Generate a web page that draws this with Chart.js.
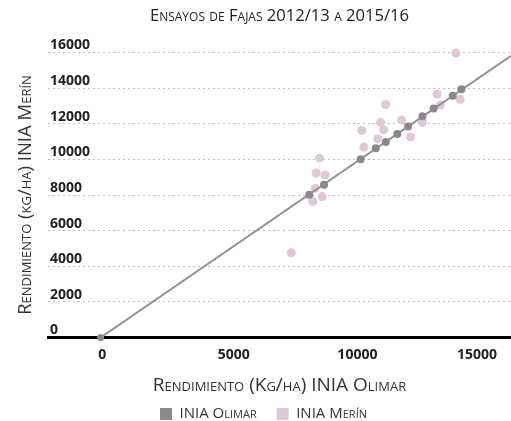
<!DOCTYPE html>
<html>
<head>
<meta charset="utf-8">
<script src="https://cdn.jsdelivr.net/npm/chart.js@4.4.1/dist/chart.umd.min.js"></script>
<style>
html,body{margin:0;padding:0;background:#fff;}
#wrap{width:511px;height:421px;position:relative;}
</style>
</head>
<body>
<div id="wrap"><canvas id="c" width="511" height="421"></canvas></div>
<script>
// Data
const olimarX = [0, 8720, 9340, 10870, 11500, 11920, 12400, 12850, 13450, 13920, 14720, 15080];
const olimarY = [0, 8010, 8570, 10010, 10620, 10970, 11420, 11840, 12420, 12850, 13570, 13940];
const merinX = [14850, 14060, 15030, 11910, 14200, 11700, 12580, 13450, 10910, 11830, 11580, 12950, 11000, 9150, 9010, 9380, 8970, 9260, 8870, 7970];
const merinY = [15970, 13670, 13380, 13080, 13050, 12080, 12210, 12070, 11620, 11660, 11160, 11260, 10690, 10070, 9230, 9120, 8380, 7910, 7650, 4760];
const trendX = [0, 17153];
const trendY = [0, 15815];
const xTicks = [0, 5000, 10000, 15000];
const yTicks = [0, 2000, 4000, 6000, 8000, 10000, 12000, 14000, 16000];
const seriesNames = ['INIA Olimar', 'INIA Merín'];
const titleText = 'Ensayos de Fajas 2012/13 a 2015/16';
const xTitle = 'Rendimiento (Kg/ha) INIA Olimar';
const yTitle = 'Rendimiento (kg/ha) INIA Merín';

const zip = (xs, ys) => xs.map((x, i) => ({x: x, y: ys[i]}));
const SC = 'small-caps 400';
const FAM = '"Open Sans", Lato, sans-serif';

new Chart(document.getElementById('c'), {
  type: 'scatter',
  data: {
    datasets: [
      {
        label: seriesNames[0],
        data: zip(olimarX, olimarY),
        backgroundColor: '#c4c4c4',
        pointBackgroundColor: '#8b898e',
        borderWidth: 0,
        pointBorderWidth: 0,
        pointRadius: olimarX.map(v => v === 0 ? 3.5 : 4),
        clip: false
      },
      {
        label: 'trend',
        type: 'line',
        data: zip(trendX, trendY),
        borderColor: '#939096',
        borderWidth: 2,
        pointRadius: 0,
        fill: false
      },
      {
        label: seriesNames[1],
        data: zip(merinX, merinY),
        backgroundColor: '#eee2ea',
        pointBackgroundColor: '#dfc8d7',
        borderWidth: 0,
        pointBorderWidth: 0,
        pointRadius: 4.5,
        clip: false
      }
    ]
  },
  options: {
    responsive: false,
    animation: false,
    devicePixelRatio: 1,
    layout: {autoPadding: false, padding: {left: 16, right: 0, top: 0, bottom: -10.5}},
    plugins: {
      tooltip: {enabled: false},
      title: {
        display: true,
        text: titleText,
        fullSize: false,
        color: '#222',
        font: {family: FAM, size: 16.6, weight: SC, lineHeight: 1},
        padding: {top: 8.2, bottom: 27.7}
      },
      legend: {
        position: 'bottom',
        labels: {
          boxWidth: 12,
          boxHeight: 12,
          padding: 10,
          color: '#333',
          font: {family: FAM, size: 15, weight: SC},
          filter: (item) => item.text !== 'trend',
          generateLabels: (chart) => {
            const items = Chart.defaults.plugins.legend.labels.generateLabels(chart);
            return items.map((it) => { if (it.text === seriesNames[0]) it.text = it.text + '\u2002\u2009'; it.lineWidth = 0; return it; });
          }
        }
      }
    },
    scales: {
      x: {
        type: 'linear',
        min: -2200,
        max: 17153,
        afterBuildTicks: (s) => { s.ticks = xTicks.map(v => ({value: v})); },
        grid: {display: false, drawTicks: false},
        border: {display: true, color: '#000', width: 3},
        ticks: {
          align: 'start',
          labelOffset: -2.5,
          padding: 0,
          color: '#222',
          callback: (v) => String(v),
          font: {family: FAM, size: 14, weight: 'bold', lineHeight: 2.5}
        },
        title: {
          display: true,
          text: xTitle,
          color: '#333',
          font: {family: FAM, size: 19, weight: SC, lineHeight: 1},
          padding: {top: 0, bottom: 1}
        },
        afterFit: (s) => { s.height = 59; s.paddingLeft = 0; s.paddingRight = 0; }
      },
      y: {
        type: 'linear',
        min: 0,
        max: 16000,
        afterBuildTicks: (s) => { s.ticks = yTicks.map(v => ({value: v})); },
        grid: {display: true, drawOnChartArea: true, drawTicks: false, color: '#bcbcbc', lineWidth: 1},
        border: {display: false, dash: [2, 3]},
        ticks: {
          mirror: true,
          padding: 2,
          labelOffset: -7,
          color: '#222',
          callback: (v) => String(v),
          font: {family: FAM, size: 14, weight: 'bold'}
        },
        title: {
          display: true,
          text: yTitle,
          color: '#333',
          font: {family: FAM, size: 18.5, weight: SC, lineHeight: 1},
          padding: {top: 0.25, bottom: 0}
        },
        afterFit: (s) => { s.width = 32; }
      }
    }
  }
});
</script>
</body>
</html>
